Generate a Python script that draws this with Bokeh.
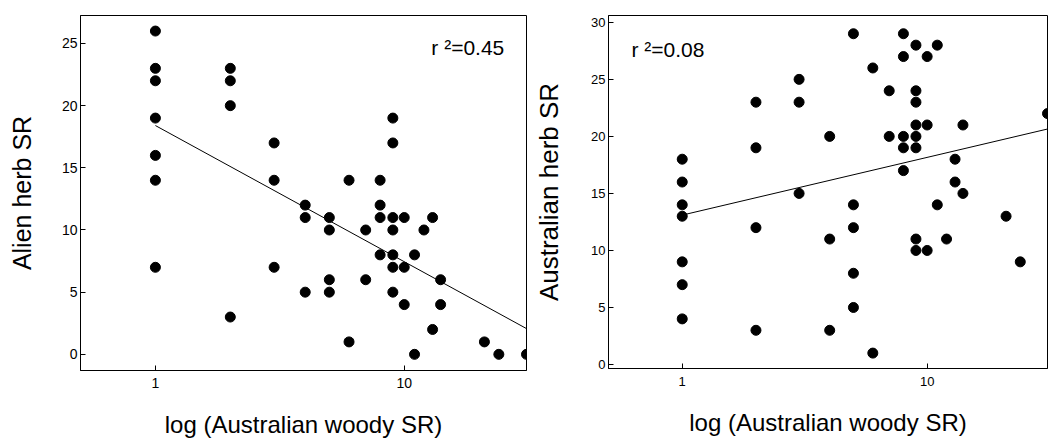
import numpy as np
from bokeh.plotting import figure
from bokeh.layouts import row
from bokeh.models import FixedTicker, Label
from bokeh.embed import file_html
from bokeh.resources import INLINE

# ---------------- data ----------------
# Left panel: Alien herb SR vs Australian woody SR
alien_x = [1, 1, 1, 1, 1, 1, 1,
           2, 2, 2, 2,
           3, 3, 3,
           4, 4, 4,
           5, 5, 5, 5,
           6, 6,
           7, 7,
           8, 8, 8, 8,
           9, 9, 9, 9, 9, 9, 9,
           10, 10, 10,
           11, 11,
           12,
           13, 13,
           14, 14,
           21, 24, 31]
alien_y = [26, 23, 22, 19, 16, 14, 7,
           23, 22, 20, 3,
           17, 14, 7,
           12, 11, 5,
           11, 10, 6, 5,
           14, 1,
           10, 6,
           14, 12, 11, 8,
           19, 17, 11, 10, 8, 7, 5,
           11, 7, 4,
           8, 0,
           10,
           11, 2,
           6, 4,
           1, 0, 0]
alien_fit = [18.4, -10.95]      # intercept, slope per log10 unit
alien_r2 = "r \u00b2=0.45"

# Right panel: Australian herb SR vs Australian woody SR
aus_x = [1, 1, 1, 1, 1, 1, 1,
         2, 2, 2, 2,
         3, 3, 3,
         4, 4, 4,
         5, 5, 5, 5, 5,
         6, 6,
         7, 7,
         8, 8, 8, 8, 8,
         9, 9, 9, 9, 9, 9, 9, 9,
         10, 10, 10,
         11, 11,
         12,
         13, 13,
         14, 14,
         21, 24, 31]
aus_y = [18, 16, 14, 13, 9, 7, 4,
         23, 19, 12, 3,
         25, 23, 15,
         20, 11, 3,
         29, 14, 12, 8, 5,
         26, 1,
         24, 20,
         29, 27, 20, 19, 17,
         28, 24, 23, 21, 20, 19, 11, 10,
         27, 21, 10,
         28, 14,
         11,
         18, 16,
         21, 15,
         13, 9, 22]
aus_fit = [13.1, 5.06]
aus_r2 = "r \u00b2=0.08"

x_tick_values = [1, 10]
x_tick_labels = ["1", "10"]
left_y_ticks = [0, 5, 10, 15, 20, 25]
right_y_ticks = [0, 5, 10, 15, 20, 25, 30]

FONT = "Liberation Sans"


def make_panel(xs, ys, fit, r2, r2_pos, yrange, yticks, ylabel,
               fw, fh, bl, br, bt, bb, tick_fs, ylab_fs, xlab_fs,
               ylab_standoff, xlab_standoff, xtick_standoff):
    p = figure(x_axis_type="log", x_range=(0.5, 31), y_range=yrange,
               frame_width=fw, frame_height=fh,
               min_border_left=bl, min_border_right=br,
               min_border_top=bt, min_border_bottom=bb,
               output_backend="svg", toolbar_location=None)
    p.xgrid.visible = False
    p.ygrid.visible = False
    p.outline_line_color = "black"
    p.outline_line_width = 1
    p.background_fill_color = "white"
    p.border_fill_color = "white"

    p.xaxis.ticker = FixedTicker(ticks=x_tick_values, minor_ticks=[])
    p.xaxis.major_label_overrides = {v: l for v, l in zip(x_tick_values, x_tick_labels)}
    p.yaxis.ticker = FixedTicker(ticks=yticks, minor_ticks=[])

    for ax in (p.xaxis, p.yaxis):
        ax.major_tick_in = 5
        ax.major_tick_out = 0
        ax.minor_tick_in = 0
        ax.minor_tick_out = 0
        ax.axis_line_color = "black"
        ax.major_tick_line_color = "black"
        ax.major_label_text_color = "black"
        ax.major_label_text_font = FONT
        ax.major_label_text_font_size = f"{tick_fs}px"
        ax.axis_label_text_font = FONT
        ax.axis_label_text_font_style = "normal"
        ax.axis_label_text_color = "black"

    p.xaxis.axis_label = "log (Australian woody SR)"
    p.xaxis.axis_label_text_font_size = f"{xlab_fs}px"
    p.xaxis.axis_label_standoff = xlab_standoff
    p.xaxis.major_label_standoff = xtick_standoff
    p.yaxis.axis_label = ylabel
    p.yaxis.axis_label_text_font_size = f"{ylab_fs}px"
    p.yaxis.axis_label_standoff = ylab_standoff
    p.yaxis.major_label_standoff = 3

    # regression line from x=1 to the max x
    lx = np.array([min(xs), max(xs)], dtype=float)
    ly = fit[0] + fit[1] * np.log10(lx)
    p.line(lx, ly, line_color="black", line_width=1)

    p.scatter(xs, ys, size=10, marker="circle",
              fill_color="black", line_color="black")

    p.add_layout(Label(x=r2_pos[0], y=r2_pos[1], text=r2,
                       text_font=FONT, text_font_size="21px",
                       text_color="black", text_baseline="alphabetic",
                       text_align="left"))
    return p


left = make_panel(alien_x, alien_y, alien_fit, alien_r2, (12.85, 24.7),
                  (-1.3, 27.25), left_y_ticks, "Alien herb SR",
                  fw=446, fh=355, bl=80, br=1, bt=15, bb=70,
                  tick_fs=14, ylab_fs=25, xlab_fs=24,
                  ylab_standoff=23, xlab_standoff=20, xtick_standoff=7)

right = make_panel(aus_x, aus_y, aus_fit, aus_r2, (0.62, 27.6),
                   (-0.35, 30.6), right_y_ticks, "Australian herb SR",
                   fw=439, fh=353, bl=81, br=1, bt=13, bb=74,
                   tick_fs=13, ylab_fs=26, xlab_fs=24,
                   ylab_standoff=24, xlab_standoff=20, xtick_standoff=8)

layout = row(left, right, spacing=0)

open("out.html", "w").write(file_html(layout, INLINE))
